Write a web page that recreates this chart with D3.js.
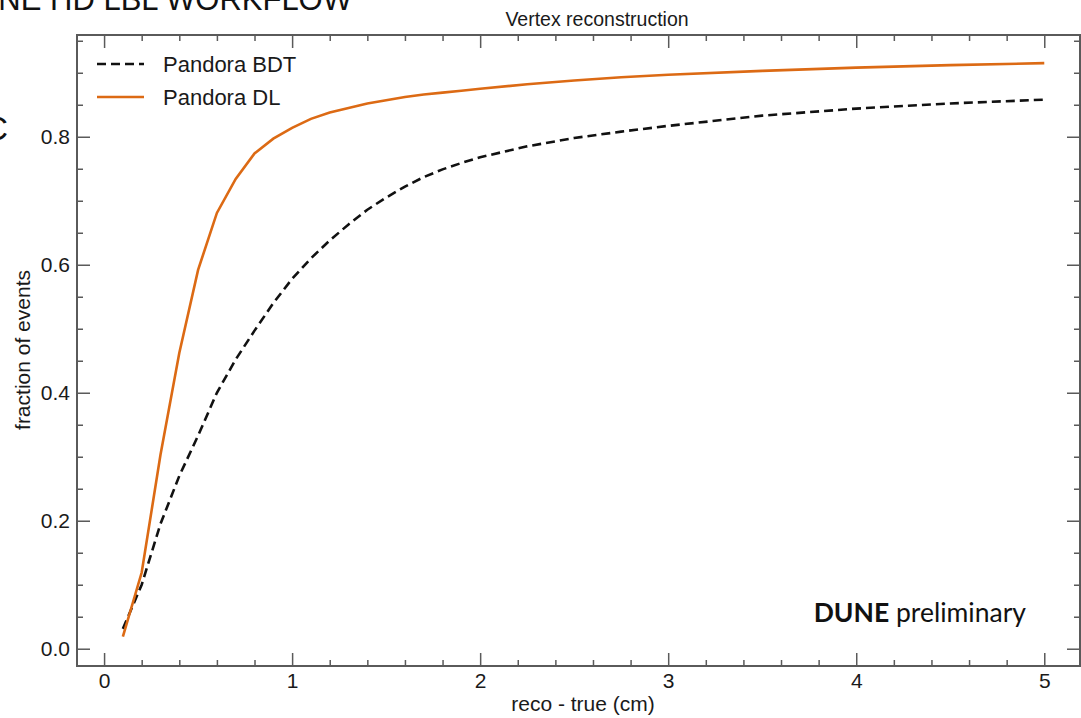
<!DOCTYPE html>
<html>
<head>
<meta charset="utf-8">
<script src="https://cdn.jsdelivr.net/npm/d3@7"></script>
<style>
  html, body { margin: 0; padding: 0; background: #fff; overflow: hidden; }
  svg { display: block; font-family: "Liberation Sans", Arial, sans-serif; }
</style>
</head>
<body>
<svg id="chart" width="1081" height="718"></svg>
<script>
'use strict';

// reco - true distance (cm)
const recoDelta = [0.1, 0.2, 0.3, 0.4, 0.5, 0.6, 0.7, 0.8, 0.9, 1.0,
  1.1, 1.2, 1.3, 1.4, 1.5, 1.6, 1.7, 1.8, 1.9, 2.0, 2.25, 2.5, 2.75, 3.0, 3.5, 4.0, 4.5, 5.0];

// cumulative fraction of events
const bdtFraction = [0.031, 0.100, 0.195, 0.270, 0.333, 0.400, 0.452, 0.497, 0.540, 0.578,
  0.610, 0.638, 0.663, 0.686, 0.705, 0.722, 0.737, 0.749, 0.759, 0.768,
  0.785, 0.798, 0.808, 0.817, 0.833, 0.844, 0.852, 0.858];
const dlFraction = [0.019, 0.119, 0.303, 0.462, 0.592, 0.681, 0.734, 0.774, 0.797, 0.814,
  0.828, 0.838, 0.845, 0.852, 0.857, 0.862, 0.866, 0.869, 0.872, 0.875,
  0.882, 0.888, 0.893, 0.897, 0.903, 0.908, 0.912, 0.915];

const xMajor = [0, 1, 2, 3, 4, 5];
const yMajor = [0, 0.2, 0.4, 0.6, 0.8];

const series = [
  {name: 'Pandora BDT', values: bdtFraction, color: '#111', dash: '9,5'},
  {name: 'Pandora DL', values: dlFraction, color: '#dc6a14', dash: null}
];

const frame = {left: 77, right: 1080, top: 35, bottom: 666};
const axisColor = '#5a5a5a';

const svg = d3.select('#chart');

const x = d3.scaleLinear().domain([-0.144, 5.19]).range([frame.left, frame.right]);
const y = d3.scaleLinear().domain([-0.027, 0.959]).range([frame.bottom, frame.top]);

const xMinor = d3.range(0, 5.2, 0.2).filter(v => Math.abs(v - Math.round(v)) > 1e-6);
const yMinor = d3.range(0, 0.96, 0.05).filter(v => yMajor.every(m => Math.abs(v - m) > 1e-6));

// pieces of the slide that the plot was cut out of
svg.append('text')
  .attr('x', 352).attr('y', 10)
  .attr('text-anchor', 'end')
  .attr('font-size', 31)
  .attr('fill', '#111')
  .text('DUNE HD LBL WORKFLOW');

svg.append('text')
  .attr('x', 8).attr('y', 140)
  .attr('text-anchor', 'end')
  .attr('font-size', 34)
  .attr('fill', '#111')
  .text('C');

/**
 * draws one side of the frame with inward major + minor ticks
 */
function drawAxis(axisFn, scale, major, minor, transform, withLabels, fmt) {
  const g = svg.append('g').attr('transform', transform);

  g.call(axisFn(scale).tickValues(minor).tickSize(-6).tickFormat(''));
  g.call(g2 => g2.append('g').call(axisFn(scale).tickValues(major).tickSize(-13)
    .tickPadding(withLabels ? 7 : 0)
    .tickFormat(withLabels ? fmt : '')));

  g.selectAll('.domain').remove();
  g.selectAll('line').attr('stroke', axisColor).attr('stroke-width', 1.5);
  g.selectAll('text')
    .attr('font-size', 21)
    .attr('fill', '#1a1a1a')
    .attr('font-family', '"Liberation Sans", Arial, sans-serif');
  return g;
}

drawAxis(d3.axisBottom, x, xMajor, xMinor, `translate(0,${frame.bottom})`, true, d3.format('d'));
drawAxis(d3.axisTop, x, xMajor, xMinor, `translate(0,${frame.top})`, false);
drawAxis(d3.axisLeft, y, yMajor, yMinor, `translate(${frame.left},0)`, true, d3.format('.1f'));
drawAxis(d3.axisRight, y, yMajor, yMinor, `translate(${frame.right},0)`, false);

// the box
svg.append('rect')
  .attr('x', frame.left).attr('y', frame.top)
  .attr('width', frame.right - frame.left)
  .attr('height', frame.bottom - frame.top)
  .attr('fill', 'none')
  .attr('stroke', axisColor)
  .attr('stroke-width', 2);

const line = d3.line()
  .x((d, i) => x(recoDelta[i]))
  .y(d => y(d));

svg.selectAll('.series')
  .data(series)
  .enter()
  .append('path')
  .classed('series', true)
  .attr('d', s => line(s.values))
  .attr('fill', 'none')
  .attr('stroke', s => s.color)
  .attr('stroke-width', 2.6)
  .attr('stroke-dasharray', s => s.dash);

// legend
const legend = svg.append('g').attr('transform', 'translate(97,64)');
const legendRows = legend.selectAll('g')
  .data(series)
  .enter()
  .append('g')
  .attr('transform', (s, i) => `translate(0,${i * 33})`);

legendRows.append('line')
  .attr('x1', 0).attr('x2', 47)
  .attr('stroke', s => s.color)
  .attr('stroke-width', 2.6)
  .attr('stroke-dasharray', s => s.dash);

legendRows.append('text')
  .attr('x', 66).attr('y', 8)
  .attr('font-size', 22)
  .attr('fill', '#1a1a1a')
  .text(s => s.name);

// titles
svg.append('text')
  .attr('x', 597).attr('y', 26)
  .attr('text-anchor', 'middle')
  .attr('font-size', 19.5)
  .attr('fill', '#1a1a1a')
  .text('Vertex reconstruction');

svg.append('text')
  .attr('x', 583).attr('y', 711)
  .attr('text-anchor', 'middle')
  .attr('font-size', 21)
  .attr('fill', '#1a1a1a')
  .text('reco - true (cm)');

svg.append('text')
  .attr('transform', 'translate(30,350) rotate(-90)')
  .attr('text-anchor', 'middle')
  .attr('font-size', 21)
  .attr('fill', '#1a1a1a')
  .text('fraction of events');

const tag = svg.append('text')
  .attr('x', 1026).attr('y', 622)
  .attr('text-anchor', 'end')
  .attr('font-family', 'Lato, "Open Sans", sans-serif')
  .attr('font-size', 26.5)
  .attr('fill', '#111');
tag.append('tspan').attr('font-weight', 'bold').text('DUNE');
tag.append('tspan').text(' preliminary');
</script>
</body>
</html>
